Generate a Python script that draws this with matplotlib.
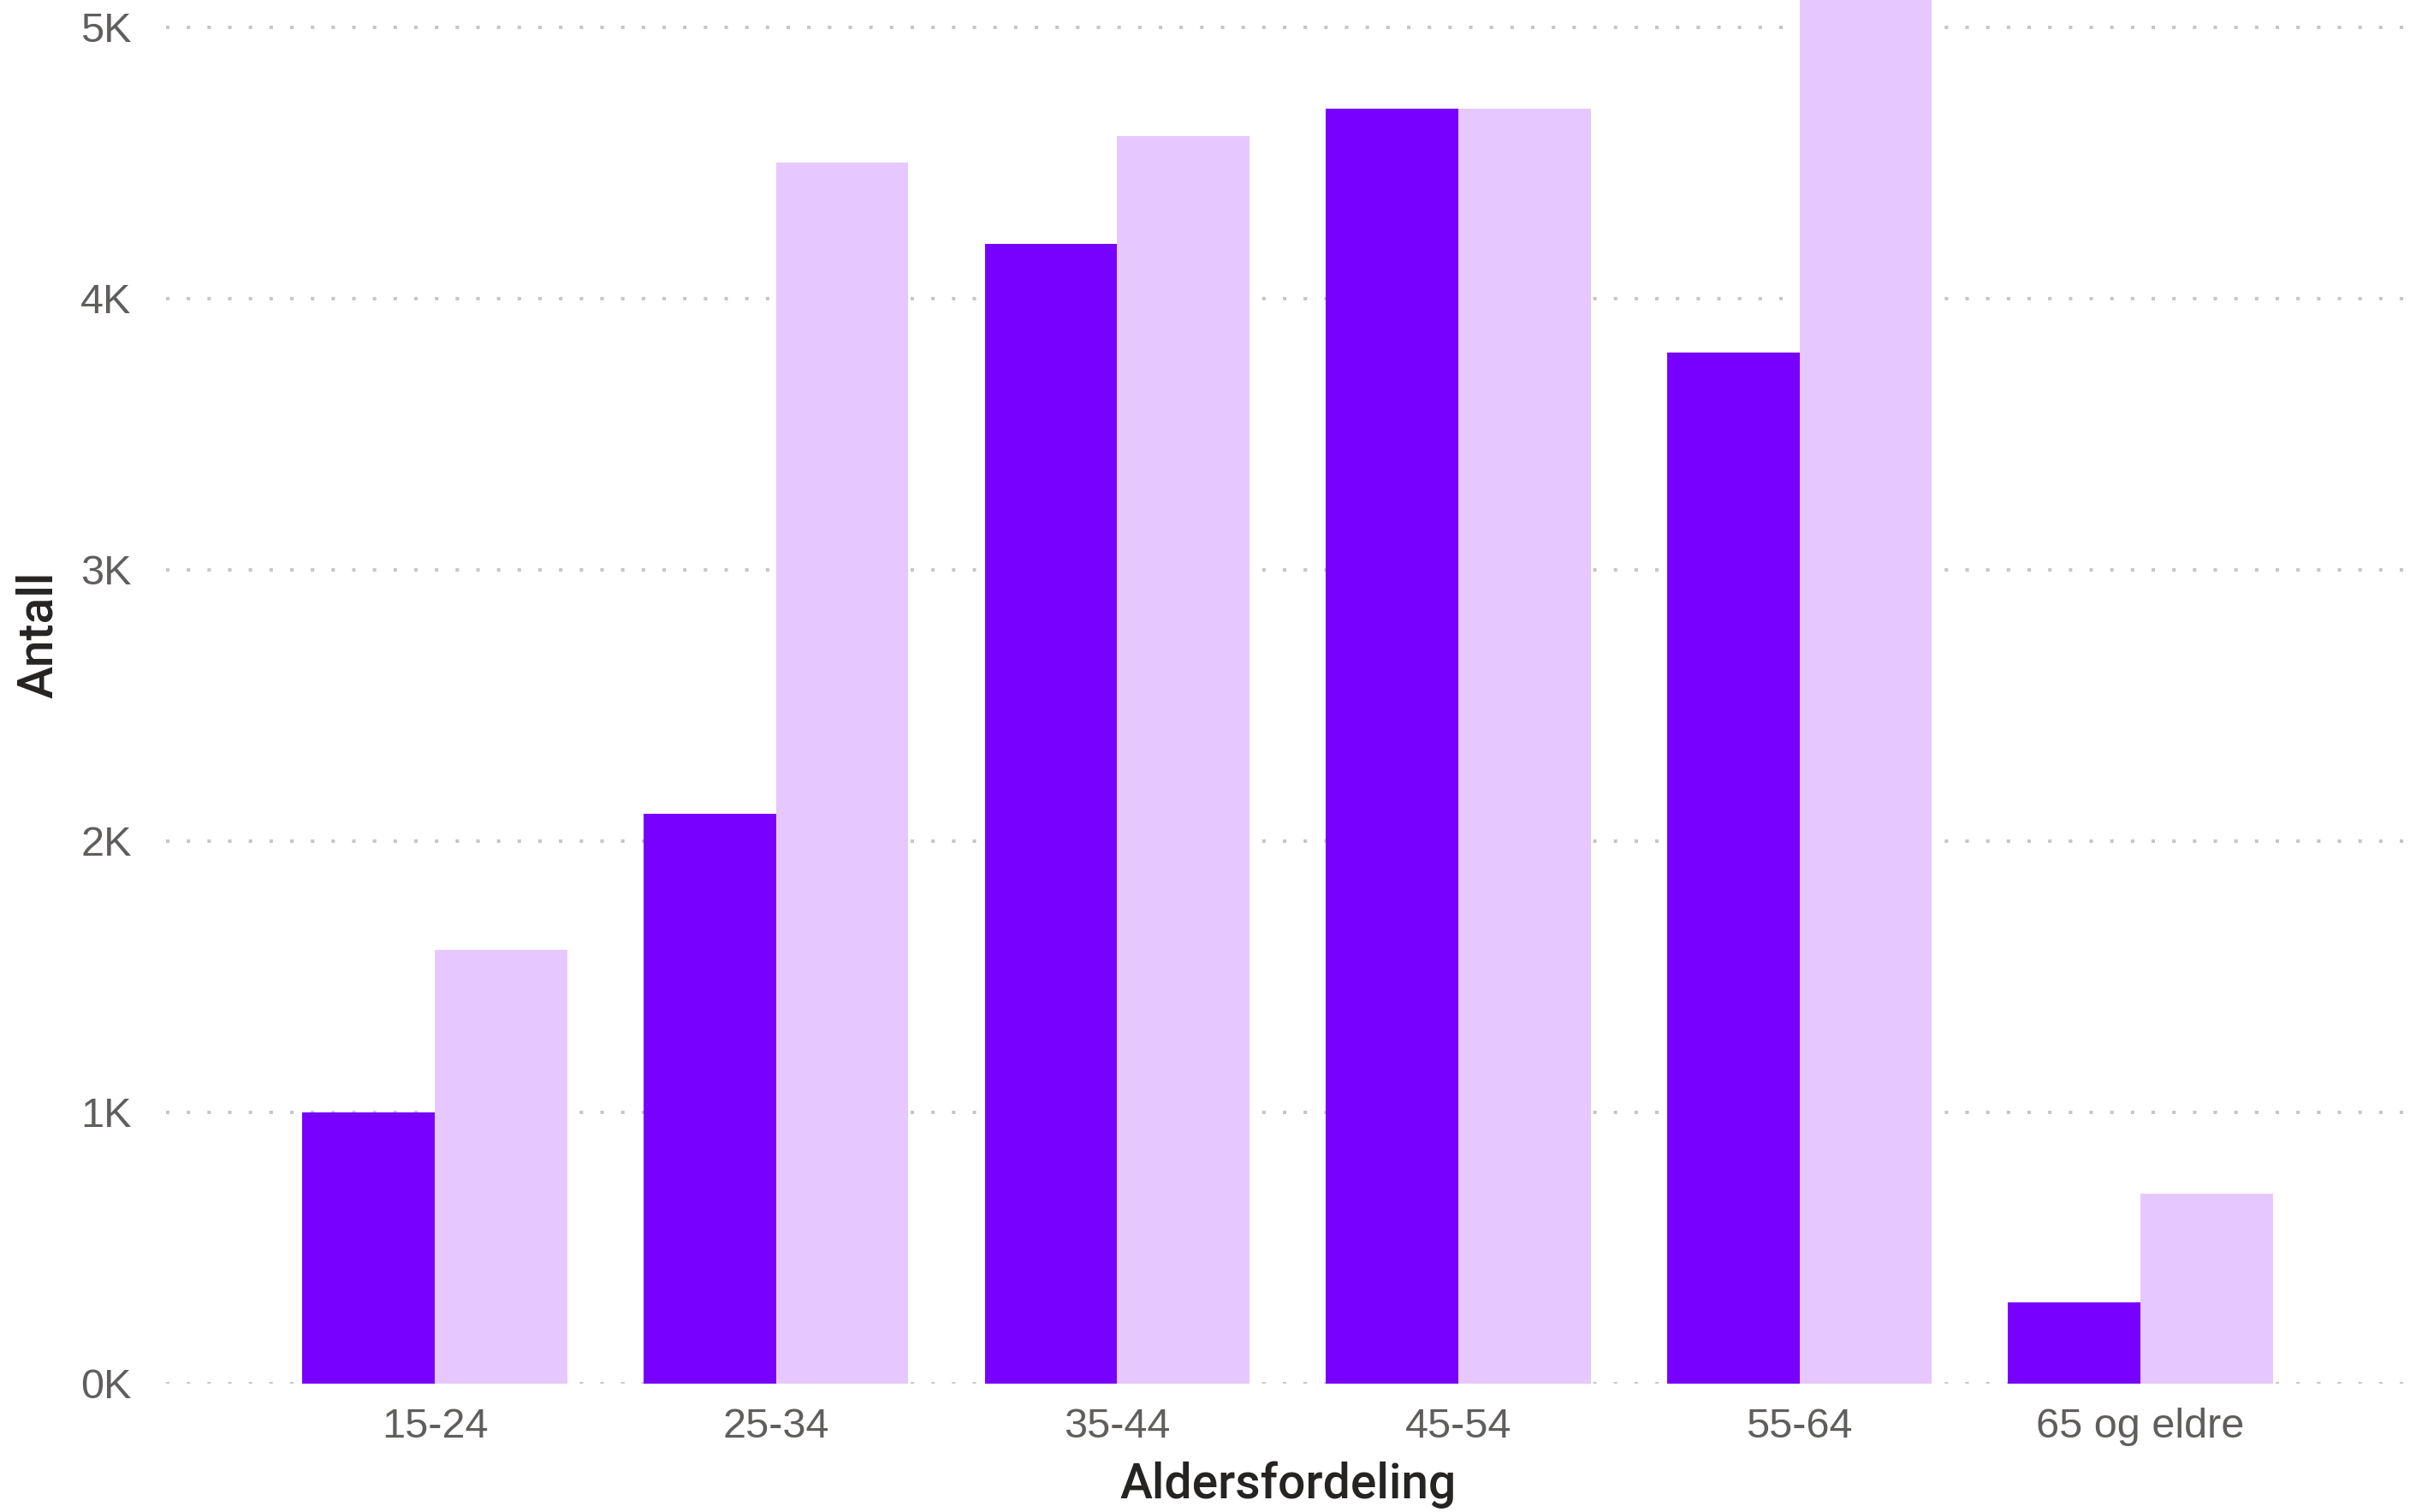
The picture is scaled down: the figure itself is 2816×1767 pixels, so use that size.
import matplotlib
matplotlib.use('Agg')
import matplotlib.pyplot as plt
import numpy as np
from matplotlib.ticker import FuncFormatter

# data
aldersgrupper = ['15-24', '25-34', '35-44', '45-54', '55-64', '65 og eldre']
serie_a = [1000, 2100, 4200, 4700, 3800, 300]
serie_b = [1600, 4500, 4600, 4700, 5100, 700]
y_ticks = [0, 1000, 2000, 3000, 4000, 5000]

farge_a = '#7700FF'
farge_b = '#E6C8FF'
tekst_farge = '#605E5C'
tittel_farge = '#252423'
grid_farge = '#C8C6C4'

fig = plt.figure(figsize=(28.16, 17.67), dpi=100)
ax = fig.add_axes([0.0689, 0.0849, 0.9311, 0.9151])

x = np.arange(len(aldersgrupper))
w = 0.388
ax.bar(x - w / 2, serie_a, width=w, color=farge_a, zorder=3)
ax.bar(x + w / 2, serie_b, width=w, color=farge_b, zorder=3)

ax.set_xlim(-0.788, 5.79)
ax.set_ylim(0, 5100)
ax.set_yticks(y_ticks)
ax.yaxis.set_major_formatter(FuncFormatter(lambda v, p: f'{int(v / 1000)}K'))
ax.set_xticks(x)
ax.set_xticklabels(aldersgrupper)

for s in ax.spines.values():
    s.set_visible(False)
ax.tick_params(axis='both', length=0, labelsize=35, labelcolor=tekst_farge)
ax.tick_params(axis='y', pad=29)
ax.tick_params(axis='x', pad=20)
for lbl in ax.get_xticklabels() + ax.get_yticklabels():
    lbl.set_family('Liberation Sans')

# prikkete rutenett bak søylene
ax.yaxis.grid(True, color=grid_farge, linewidth=2.9, linestyle=(0, (1, 5)), zorder=0)
for gl in ax.get_ygridlines():
    gl.set_dash_capstyle('butt')
ax.set_axisbelow(True)

ax.set_ylabel('Antall', fontsize=41, color=tittel_farge, family='Roboto', fontweight='medium')
ax.yaxis.set_label_coords(-0.0463, 0.541)
ax.set_xlabel('Aldersfordeling', fontsize=41, color=tittel_farge, family='Roboto',
              fontweight='medium', labelpad=13)

fig.savefig('out.png', dpi=100)
